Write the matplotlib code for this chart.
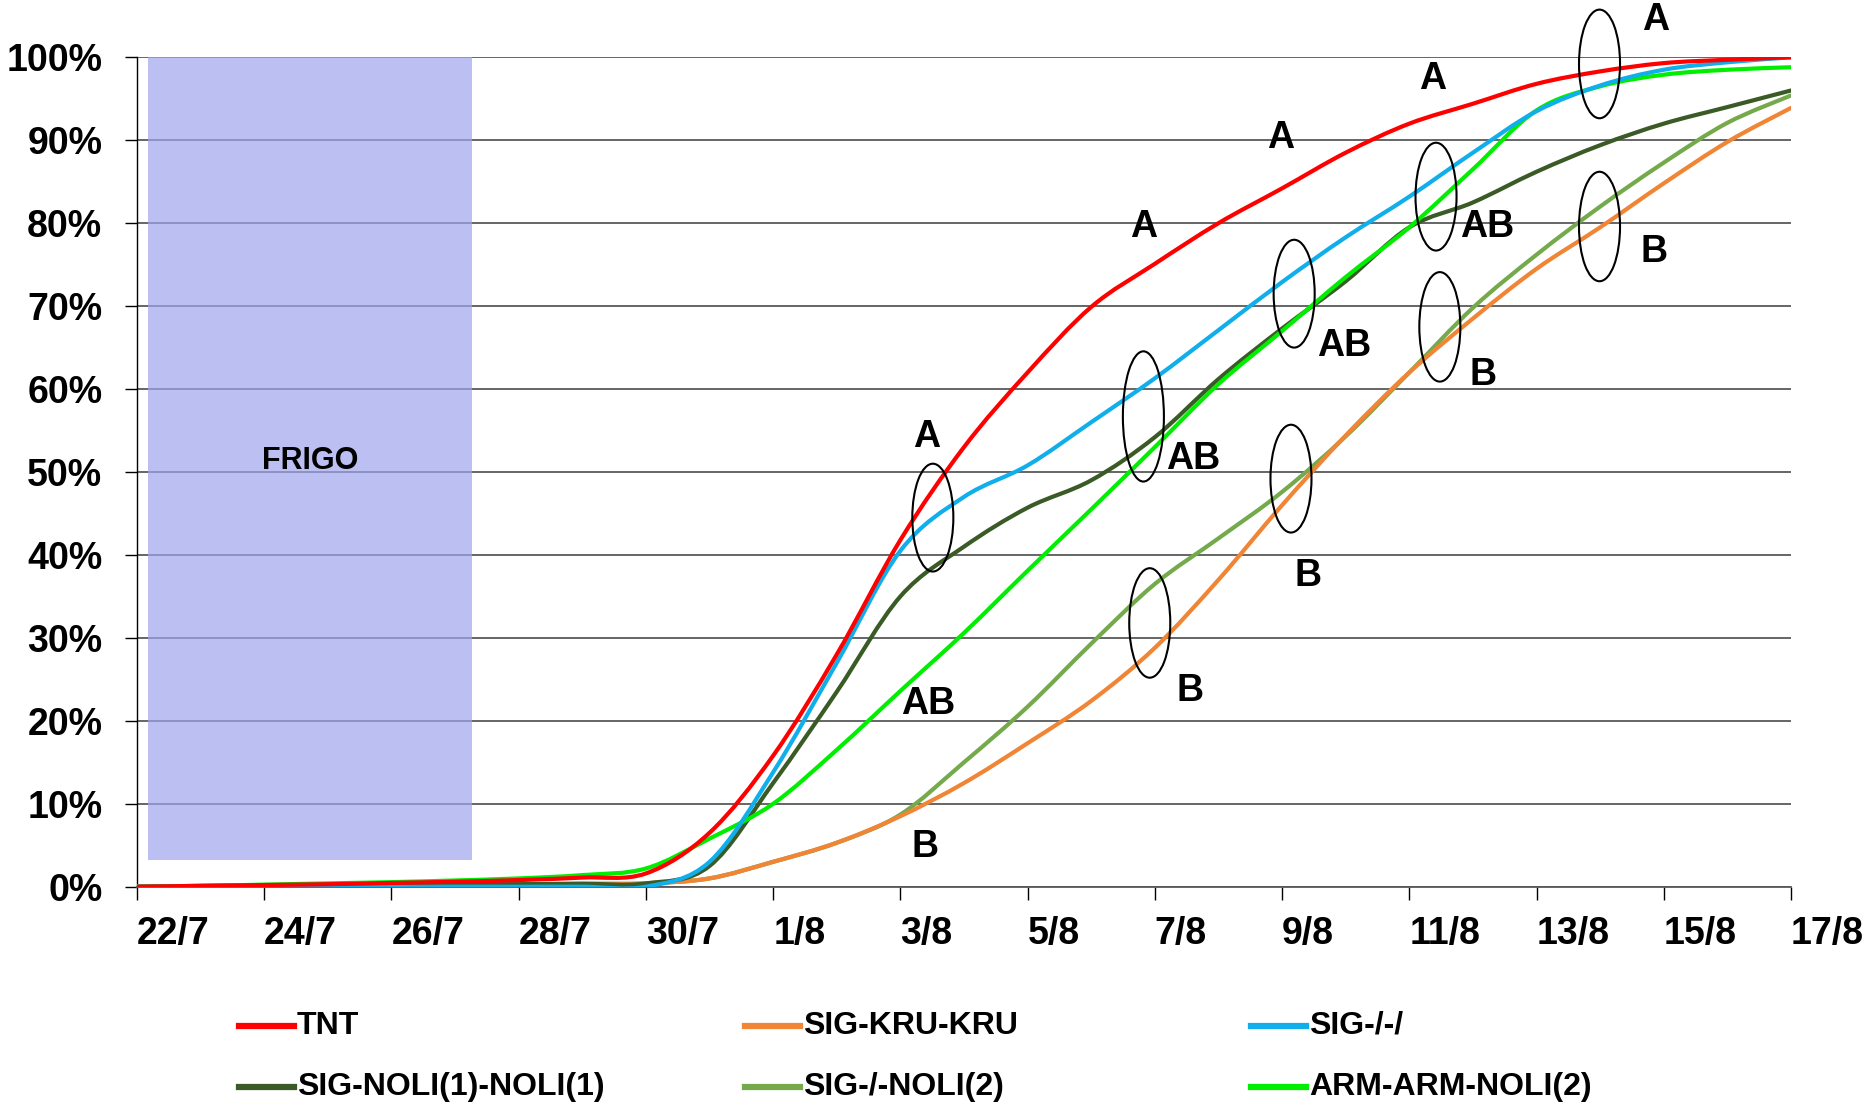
import numpy as np
import matplotlib
matplotlib.use("Agg")
import matplotlib.pyplot as plt
from matplotlib.path import Path
from matplotlib.patches import PathPatch, Ellipse, Rectangle
from matplotlib.lines import Line2D

plt.rcParams["font.family"] = ["Liberation Sans", "DejaVu Sans"]
plt.rcParams["font.weight"] = "bold"

# day index 0 = 22/7 ... 26 = 17/8
days = np.arange(27)
tick_days = np.arange(0, 27, 2)
tick_labels = ["22/7", "24/7", "26/7", "28/7", "30/7", "1/8", "3/8",
               "5/8", "7/8", "9/8", "11/8", "13/8", "15/8", "17/8"]

# cumulative percentages
tnt = [0, 0.1, 0.2, 0.3, 0.45, 0.6, 0.8, 1.1, 1.6, 6.5, 15.8, 28, 41.8, 53,
       62, 69.9, 75.1, 80, 84.2, 88.5, 92, 94.4, 96.8, 98.3, 99.3, 99.7, 100]
sig_kru = [0, 0.05, 0.1, 0.15, 0.2, 0.25, 0.3, 0.35, 0.4, 1.0, 3.0, 5.3, 8.5,
           12.5, 17.3, 22.4, 28.8, 37, 46, 54.4, 62, 68.5, 74.5, 79.5, 84.8,
           89.8, 93.9]
sig_empty = [0, 0, 0, 0, 0, 0, 0, 0, 0, 3, 13.8, 27, 40.5, 47, 50.8, 56,
             61.3, 67.1, 72.9, 78.3, 83.2, 88.5, 93.5, 96.6, 98.5, 99.4, 100]
sig_noli1 = [0, 0.1, 0.15, 0.2, 0.25, 0.3, 0.3, 0.35, 0.4, 2.5, 12.5, 23.5,
             35, 41, 45.7, 49, 54.2, 61.2, 67.3, 73, 79.5, 82.5, 86.2, 89.4,
             92, 94, 96]
sig_noli2 = [0, 0.05, 0.1, 0.15, 0.2, 0.25, 0.3, 0.35, 0.4, 1.0, 3.0, 5.3, 8.7,
             15, 21.7, 29.3, 36.5, 42, 47.6, 54.3, 62, 69.8, 76.2, 82, 87.3,
             92.1, 95.4]
arm_noli2 = [0, 0.1, 0.25, 0.4, 0.55, 0.75, 1.0, 1.4, 2.2, 5.8, 10, 16.5,
             23.6, 30.6, 38.1, 45.5, 53, 60.6, 67, 73.5, 79.5, 86.5, 93.6,
             96.5, 97.9, 98.5, 98.8]

series = [
    ("TNT", tnt, "#ff0000"),
    ("SIG-KRU-KRU", sig_kru, "#ef8535"),
    ("SIG-/-/", sig_empty, "#10aeea"),
    ("SIG-NOLI(1)-NOLI(1)", sig_noli1, "#3a5a26"),
    ("SIG-/-NOLI(2)", sig_noli2, "#74aa4c"),
    ("ARM-ARM-NOLI(2)", arm_noli2, "#00ee00"),
]
draw_order = [4, 1, 3, 5, 2, 0]

# significance groups: ellipse centres (day, %) and letters
ellipse_x = [12.51, 15.82, 15.92, 18.19, 18.14, 20.42, 20.48, 22.99, 22.99]
ellipse_y = [44.5, 56.7, 31.8, 71.5, 49.2, 83.2, 67.5, 99.2, 79.6]
ellipse_h = [13.0, 15.7, 13.2, 13.0, 13.0, 13.0, 13.2, 13.1, 13.2]
letters = ["A", "AB", "B", "A", "AB", "B", "A", "AB", "B",
           "A", "AB", "B", "A", "B"]
letter_x = [12.41, 12.44, 12.39, 15.83, 16.6, 16.56, 17.97, 18.98, 18.41,
            20.36, 21.23, 21.16, 23.87, 23.84]
letter_y = [54.2, 22.0, 4.8, 79.5, 51.6, 23.6, 90.3, 65.2, 37.5,
            97.4, 79.5, 61.7, 104.5, 76.5]


def smooth_path(x, y):
    pts = np.column_stack([x, y]).astype(float)
    p = np.vstack([pts[0], pts, pts[-1]])
    verts = [pts[0]]
    codes = [Path.MOVETO]
    for i in range(len(pts) - 1):
        p0, p1, p2, p3 = p[i], p[i + 1], p[i + 2], p[i + 3]
        verts += [p1 + (p2 - p0) / 6, p2 - (p3 - p1) / 6, p2]
        codes += [Path.CURVE4] * 3
    return Path(verts, codes)


W, H = 1873, 1110
fig = plt.figure(figsize=(W / 100, H / 100), dpi=100)
ax = fig.add_axes([137 / W, 1 - 886.7 / H, (1791 - 137) / W, (886.7 - 57.3) / H])

ax.set_xlim(0, 26)
ax.set_ylim(0, 100)
ax.set_yticks(range(0, 101, 10))
ax.set_yticklabels([f"{v}%" for v in range(0, 101, 10)])
ax.set_xticks(tick_days)
ax.set_xticklabels(tick_labels, ha="left")
ax.tick_params(axis="y", length=9, width=1, pad=16, labelsize=27)
ax.tick_params(axis="x", length=9, width=1, pad=12, labelsize=27)
for spine in ["top", "right"]:
    ax.spines[spine].set_visible(False)
ax.spines["left"].set_linewidth(1)
ax.spines["bottom"].set_color("#595959")
ax.spines["bottom"].set_linewidth(1.3)
ax.grid(axis="y", color="#595959", linewidth=1.3, zorder=1)
ax.set_axisbelow(True)

# cold storage period
ax.add_patch(Rectangle((0.18, 3.2), 5.27 - 0.18, 100 - 3.2,
                       facecolor="#9ea4ec", alpha=0.7, edgecolor="none", zorder=2))
ax.text(2.72, 51.3, "FRIGO", fontsize=22, fontweight="bold", ha="center",
        va="center", zorder=3)

for i in draw_order:
    name, vals, color = series[i]
    ax.add_patch(PathPatch(smooth_path(days, vals), fill=False, edgecolor=color,
                           linewidth=3, joinstyle="round", capstyle="round",
                           zorder=4))

for cx, cy, h in zip(ellipse_x, ellipse_y, ellipse_h):
    ax.add_patch(Ellipse((cx, cy), 0.645, h, fill=False, edgecolor="black",
                         linewidth=1.5, zorder=5, clip_on=False))
for t, lx, ly in zip(letters, letter_x, letter_y):
    ax.text(lx, ly, t, fontsize=27, fontweight="bold", ha="center",
            va="center", zorder=6, clip_on=False)

# legend, three columns of two rows
col_x = [239, 745, 1251]
row_y = [1026, 1087]
legend_pos = [(0, 0), (1, 0), (2, 0), (0, 1), (1, 1), (2, 1)]
for (name, vals, color), (c, r) in zip(series, legend_pos):
    x0 = col_x[c] / W
    y0 = 1 - row_y[r] / H
    fig.add_artist(Line2D([x0, x0 + 55 / W], [y0, y0], color=color,
                          linewidth=4.5, transform=fig.transFigure))
    fig.text(x0 + 58 / W, y0, name, fontsize=23, fontweight="bold",
             ha="left", va="center")

fig.savefig("out.png", dpi=100)
